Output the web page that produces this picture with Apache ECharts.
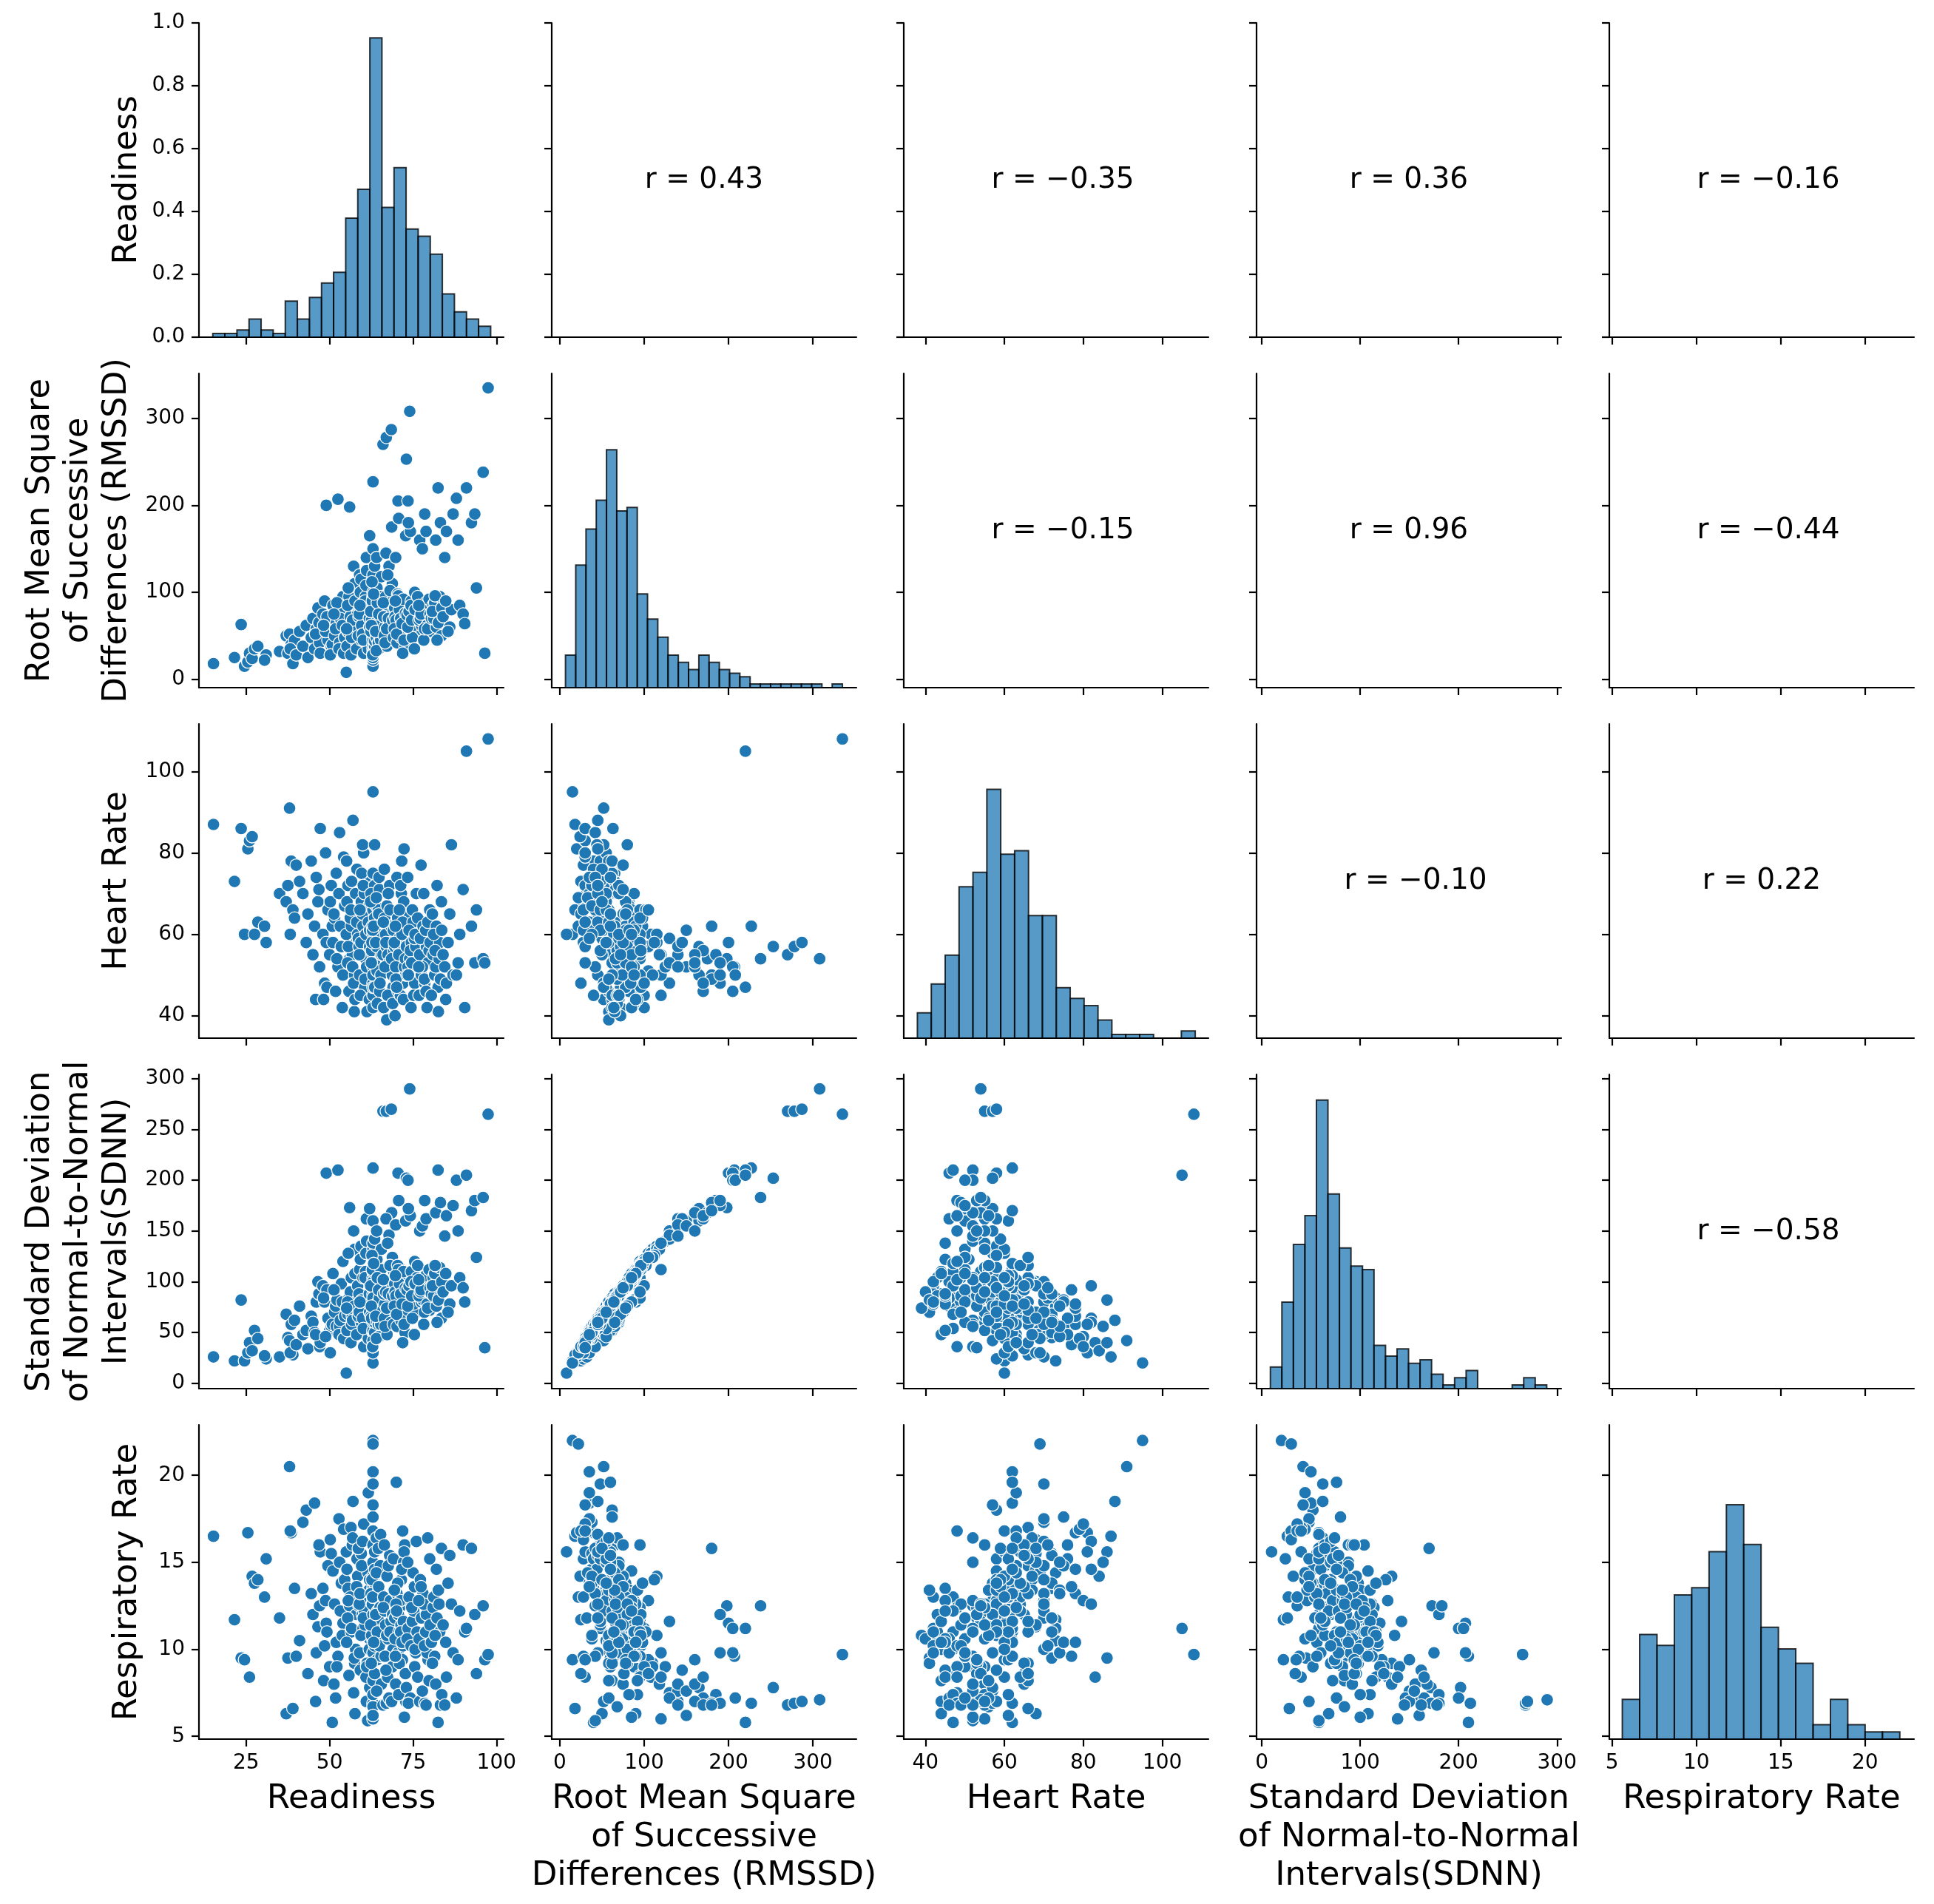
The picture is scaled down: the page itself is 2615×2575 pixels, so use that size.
<!DOCTYPE html>
<html><head><meta charset="utf-8">
<script src="https://cdn.jsdelivr.net/npm/echarts@6/dist/echarts.min.js"></script>
<style>html,body{margin:0;padding:0;background:#fff}#c{width:2615px;height:2575px}</style>
</head><body><div id="c"></div>
<script>
// ---- variable names (axis labels) ----
const varNames = [
  'Readiness',
  'Root Mean Square\nof Successive\nDifferences (RMSSD)',
  'Heart Rate',
  'Standard Deviation\nof Normal-to-Normal\nIntervals(SDNN)',
  'Respiratory Rate'
];

// ---- observations (one entry per day, same index across arrays) ----
const readiness = [
15.2,21.5,23.5,24.5,25.5,26,26.8,27.5,28.5,31,
30.5,35,37,37.5,38,38.5,39,39.5,38.2,40,
41,42,43,43.5,44.5,45,45.5,46,46.5,47,
47.2,46.8,45.8,48,48.5,49,49.5,50,50.5,49.2,
48.8,50.8,51,48.2,50.2,51.5,52,52.5,53,53.5,
54,52.8,51.8,53.2,54.5,52.2,54.2,53.8,51.3,55,
55.5,56,56.5,57,57.5,58,55.2,55.8,56.2,56.8,
57.2,57.8,58.2,55.4,56.4,57.4,58.4,55.6,56.6,57.6,
58.1,56.9,55.1,58.8,59,59.5,60,60.5,61,61.5,
62,59.2,59.8,60.2,60.8,61.2,61.8,58.6,59.4,60.4,
61.4,62,59.6,60.6,61.6,58.9,59.9,60.9,61.9,59.1,
60.1,61.1,62,63,63,63,63,63,63,63,
63,63,63,63,63,63,63,63,63,63,
63,63,63,63,63,63.5,63.5,63.5,63.5,63.5,
63.5,63.5,63.5,62.4,62.6,62.8,64,64.2,64.5,64.8,
65,65.2,65.5,64.4,64.6,65.4,62.3,62.9,64.1,65.1,
64.9,62.7,64.3,65.3,62.5,64.7,63.8,63.2,64,66,
67,68.5,66.5,67.5,68,68.8,66.2,66.8,67.2,67.8,
68.2,69,66.4,67.4,68.4,69.2,66.6,67.6,68.6,66.1,
67.1,68.1,69.1,66.9,68.9,69.5,70,70.5,71,71.5,
72,72.5,69.8,70.2,70.8,71.2,71.8,72.2,72.8,69.6,
70.4,71.4,72.4,70.6,71.6,72.6,69.9,70.9,71.9,72.1,
69.4,70.7,71.3,72.7,70.1,71.7,72.3,69.7,74,73,
73.5,74.5,75,75.5,76,73.2,73.8,74.2,74.8,75.2,
75.8,76.2,73.4,74.4,75.4,76.4,73.6,74.6,75.6,77,
77.5,78,78.5,79,79.5,80,76.8,77.2,77.8,78.2,
78.8,79.2,79.8,77.4,78.4,79.4,80.1,76.7,78.9,81,
81.5,82,82.5,83,83.5,80.5,81.2,81.8,82.2,82.8,
83.2,80.8,81.6,82.6,83.6,84,85,86,86.5,84.5,
85.5,87,84.8,88,89,90,88.5,90.5,91,92.5,
93.5,94,96,96.5,97.5];

const rmssd = [
18,25,63,15,20,30,24,35,38,28,
22,32,50,30,52,40,18,45,35,28,
55,38,62,25,48,70,35,58,82,42,
30,65,52,75,90,200,45,60,38,72,
55,40,85,62,28,50,65,207,42,78,
95,35,58,70,48,88,30,62,75,8,
55,198,82,45,110,62,38,95,72,50,
130,65,40,85,28,60,75,105,48,90,
35,68,58,72,120,45,88,55,140,65,
38,100,78,30,95,58,82,50,115,68,
42,165,62,90,35,75,52,108,70,85,
45,125,60,227,15,22,35,48,30,62,
25,95,70,115,40,88,55,100,78,45,
120,58,92,68,150,52,80,38,96,60,
44,75,130,55,68,90,48,105,62,35,
82,58,118,72,42,95,78,28,140,52,
66,112,88,45,62,75,55,98,33,270,
278,287,60,85,45,110,72,95,38,130,
55,78,50,120,65,92,42,70,175,88,
58,102,48,145,68,82,60,205,95,50,
84,75,140,42,88,65,78,55,165,72,
98,48,85,96,62,38,68,80,30,92,
58,185,70,76,52,64,45,90,308,253,
205,90,65,100,55,74,78,170,48,62,
72,88,60,85,35,95,180,68,80,160,
62,65,190,80,78,55,68,70,150,45,
88,62,92,75,58,58,75,85,170,85,
88,60,220,95,50,70,70,160,45,66,
180,78,96,65,82,72,170,60,80,140,
55,190,90,208,85,75,160,64,220,180,
190,105,238,30,335];

const heartRate = [
87,73,86,60,81,83,84,60,63,58,
62,70,68,72,91,78,66,64,60,77,
73,70,58,65,78,55,62,74,68,52,
86,71,44,60,48,58,66,55,72,47,
80,62,58,44,68,64,75,52,85,57,
50,70,46,62,67,54,79,42,65,60,
72,54,62,88,50,58,68,46,64,55,
48,70,76,53,66,41,60,57,73,44,
63,52,78,57,50,68,62,47,55,73,
60,45,65,80,54,41,67,59,58,70,
52,57,75,49,63,55,82,60,44,66,
72,52,61,62,95,69,62,70,57,75,
48,66,52,60,45,70,58,42,62,50,
55,66,47,56,61,61,57,72,47,64,
82,53,59,70,56,62,67,51,59,74,
46,63,55,60,66,50,68,61,57,48,
71,58,43,63,53,65,58,62,69,55,
57,58,64,55,72,50,42,60,67,53,
58,47,76,45,62,56,52,70,54,63,
39,66,61,58,43,57,62,46,55,70,
48,65,52,74,59,45,61,68,50,40,
64,56,52,57,78,60,49,66,63,44,
58,55,72,54,47,60,81,62,54,57,
52,58,63,48,70,50,61,56,66,45,
57,52,74,42,59,64,50,53,60,55,
50,62,48,57,53,66,45,59,52,70,
61,42,56,77,49,63,58,52,46,55,
50,62,47,58,68,45,60,52,72,54,
49,65,56,41,61,55,48,65,82,52,
58,50,44,50,60,71,53,42,105,62,
53,66,54,53,108];

const sdnn = [
26,22,82,22,30,40,32,52,44,24,
27,26,68,45,42,58,28,62,30,38,
76,48,52,34,66,60,50,80,100,36,
40,88,48,96,80,207,64,52,56,92,
46,58,108,84,30,70,56,210,56,98,
120,48,76,62,66,82,44,80,92,10,
68,173,104,62,132,58,52,84,90,66,
150,80,48,80,40,76,96,128,58,108,
48,62,74,88,112,60,104,54,162,84,
44,122,74,36,110,70,100,66,135,64,
58,172,82,104,44,70,64,128,88,80,
54,140,70,212,20,30,50,62,42,80,
36,104,88,132,52,100,70,96,94,60,
138,72,110,84,160,66,76,50,118,74,
60,96,142,66,64,112,62,122,80,46,
100,76,132,68,58,112,96,36,150,70,
84,126,104,58,76,92,66,118,44,268,
268,270,78,98,62,124,88,90,48,146,
72,96,64,138,60,110,56,88,168,102,
74,116,58,162,86,98,76,207,114,64,
102,92,156,56,106,82,74,70,160,90,
116,62,100,112,78,50,86,98,40,110,
76,180,88,94,68,78,58,106,290,202,
200,110,82,120,70,92,96,165,64,78,
90,104,76,100,48,116,172,86,98,150,
80,82,180,100,94,72,86,90,155,58,
106,78,112,92,70,74,94,102,162,104,
108,76,210,114,64,88,86,168,60,84,
178,96,116,82,100,90,165,78,96,145,
70,175,108,200,104,94,150,80,205,170,
180,124,183,35,265];

const respRate = [
16.5,11.7,9.5,9.4,16.7,8.4,14.2,13.8,14.0,15.2,
13.0,11.8,6.3,9.5,20.5,16.7,6.6,13.5,16.8,9.6,
10.5,17.3,18.0,8.6,13.2,12.0,18.4,9.8,11.3,12.5,
15.6,16.0,7.0,13.5,10.2,11.5,14.8,9.0,15.5,11.0,
12.8,5.8,14.5,8.2,16.3,12.6,10.4,9.6,15.0,13.8,
11.5,17.5,7.2,12.2,14.0,9.0,16.9,10.8,8.0,15.6,
13.5,12.5,11.0,18.5,9.2,12.0,14.6,8.5,13.0,16.0,
7.5,10.0,15.2,11.8,17.0,9.5,14.2,12.8,11.2,6.3,
13.6,16.4,10.4,12.5,9.8,15.5,11.2,13.0,7.0,14.4,
10.6,8.8,12.0,17.2,11.6,9.2,13.4,15.8,10.8,12.2,
5.9,7.8,14.8,11.4,19.0,12.6,16.2,8.4,10.0,13.2,
11.8,9.0,14.0,6.9,22.0,21.8,20.2,19.5,18.3,17.6,
16.8,16.0,15.0,14.2,13.5,12.8,12.0,11.2,10.5,9.8,
6.0,8.2,7.4,6.7,6.2,12.4,11.0,13.8,10.2,15.6,
14.6,8.6,11.6,13.2,10.8,12.6,16.4,9.4,11.8,13.4,
10.6,14.8,8.0,12.2,15.8,9.6,11.4,13.0,7.6,12.4,
10.2,14.0,11.0,16.6,9.2,13.6,12.0,10.4,14.4,6.8,
6.9,7.0,12.2,10.6,15.4,9.0,13.0,11.4,14.2,7.2,
12.8,10.0,16.0,8.4,11.6,13.4,9.6,14.8,7.0,12.4,
10.8,11.0,15.2,8.8,12.0,11.8,19.6,9.8,12.4,14.0,
10.2,16.0,8.0,13.2,11.0,12.8,9.4,15.0,7.0,10.6,
13.8,11.4,6.1,12.0,14.6,10.8,12.6,9.2,16.8,11.6,
13.4,7.4,11.0,8.6,12.2,10.4,15.6,9.6,7.1,7.8,
11.2,12.6,14.4,9.0,16.2,10.6,13.0,7.2,11.6,12.2,
9.8,11.0,15.0,10.2,13.6,8.4,6.9,12.4,10.0,7.0,
11.8,13.2,6.9,12.0,9.4,15.2,10.6,14.0,7.6,12.6,
11.0,9.8,8.2,13.6,10.2,16.4,11.4,12.8,6.8,12.4,
9.6,14.6,5.8,11.0,15.8,10.4,13.0,8.0,11.8,12.6,
6.8,9.2,10.8,13.4,7.4,11.4,8.4,15.4,12.6,6.8,
13.8,9.8,10.4,7.2,12.2,16.0,9.4,11.0,11.2,15.8,
12.0,8.6,12.5,9.4,9.7];

// ---- diagonal histograms (bin start, bin width, counts) ----
const histStart = [15.0, 6.7, 37.95, 8.75, 5.61];
const histWidth = [3.62, 12.16, 3.52, 11.7, 1.028];
const readinessHist = [1,1,2,5,2,1,10,5,11,15,18,33,41,83,36,47,30,28,23,12,7,5,3];
const rmssdHist = [9,34,44,52,66,49,50,26,19,14,9,7,5,9,7,5,4,3,1,1,1,1,1,1,1,0,1];
const heartRateHist = [7,15,23,42,46,69,51,52,34,34,14,11,9,5,1,1,1,0,0,2];
const sdnnHist = [6,24,40,48,80,54,39,34,33,12,9,11,7,8,4,1,3,5,0,0,0,1,3,1];
const respRateHist = [11,29,26,40,42,52,65,54,31,25,21,4,11,4,2,2];

// ---- correlation annotations (upper triangle, row by row) ----
const corrLabels = ['0.43','\u22120.35','0.36','\u22120.16','\u22120.15','0.96','\u22120.44','\u22120.10','0.22','\u22120.58'];

// ---- axis ranges and ticks ----
const axisMin = [10.85, -9.6, 34.5, -5.3, 4.84];
const axisMax = [102.15, 351.6, 111.7, 304.3, 22.9];
const xTicks = [[25,50,75,100],[0,100,200,300],[40,60,80,100],[0,100,200,300],[5,10,15,20]];
const yTicks = [[0,0.2,0.4,0.6,0.8,1.0],[0,100,200,300],[40,60,80,100],[0,50,100,150,200,250,300],[5,10,15,20]];

// ---- layout ----
const colLeft = [269, 746, 1222, 1699, 2176];
const rowTop = [31, 505, 979, 1453, 1927];
const PW = 412, PH = 425;
const yNameX = [172, 106, 158, 106, 172];   // centre of the rotated row label block
const FONT = 'DejaVu Sans';
const BLUE = '#1f77b4';

const vars = [readiness, rmssd, heartRate, sdnn, respRate];
const hists = [readinessHist, rmssdHist, heartRateHist, sdnnHist, respRateHist];
const histMax = Math.max(...hists.map(h => Math.max(...h))) * 1.05;

const grid = [], xAxis = [], yAxis = [], series = [], graphic = [];
let ci = 0;
const axisLineStyle = {color:'#000', width:2.2};
for (let i = 0; i < 5; i++) {
  // rotated row label
  graphic.push({
    type:'text', x: yNameX[i], y: rowTop[i] + PH/2, rotation: Math.PI/2, silent:true,
    style:{text: varNames[i], fontFamily:FONT, fontSize:45, fill:'#000', lineHeight:52,
      align:'center', verticalAlign:'middle', textAlign:'center', textVerticalAlign:'middle'}
  });
  for (let j = 0; j < 5; j++) {
    const g = grid.length;
    grid.push({left: colLeft[j], top: rowTop[i], width: PW, height: PH, containLabel:false, outerBoundsMode:'none'});
    xAxis.push({
      type:'value', gridIndex:g, min:axisMin[j], max:axisMax[j], position:'bottom',
      name: i === 4 ? varNames[j] : '', nameLocation:'middle', nameGap:55,
      nameTextStyle:{fontFamily:FONT, fontSize:45, color:'#000', lineHeight:52, align:'center'},
      axisLine:{show:true, onZero:false, lineStyle:axisLineStyle},
      axisTick:{show:true, inside:false, length:10, lineStyle:axisLineStyle, customValues:xTicks[j]},
      axisLabel:{show: i === 4, customValues:xTicks[j], margin:19, fontFamily:FONT, fontSize:28, color:'#000'},
      splitLine:{show:false}
    });
    const yi = yAxis.length;
    yAxis.push({
      type:'value', gridIndex:g, min: i === 0 ? 0 : axisMin[i], max: i === 0 ? 1 : axisMax[i], position:'left',
      axisLine:{show:true, onZero:false, lineStyle:axisLineStyle},
      axisTick:{show:true, inside:false, length:10, lineStyle:axisLineStyle, customValues:yTicks[i]},
      axisLabel:{show: j === 0, customValues:yTicks[i], margin:19, fontFamily:FONT, fontSize:28, color:'#000',
        formatter: i === 0 ? (v => Number(v).toFixed(1)) : (v => String(v))},
      splitLine:{show:false}
    });
    if (i === j) {
      const hy = yAxis.length;
      yAxis.push({type:'value', gridIndex:g, min:0, max:histMax, show:false, position:'right',
        axisLine:{onZero:false}, splitLine:{show:false}});
      const counts = hists[i];
      const data = [];
      counts.forEach((c, k) => { if (c > 0) data.push([histStart[i] + k*histWidth[i], histStart[i] + (k+1)*histWidth[i], c]); });
      series.push({
        type:'custom', coordinateSystem:'cartesian2d', xAxisIndex:g, yAxisIndex:hy, data, silent:true,
        encode:{x:[0,1], y:2},
        renderItem:(params, api) => {
          const p0 = api.coord([api.value(0), api.value(2)]);
          const p1 = api.coord([api.value(1), 0]);
          return {type:'rect', shape:{x:p0[0], y:p0[1], width:p1[0]-p0[0], height:p1[1]-p0[1]},
            style:{fill:'rgba(31,119,180,0.75)', stroke:'rgba(0,0,0,0.78)', lineWidth:2}};
        }
      });
    } else if (i > j) {
      series.push({
        type:'scatter', xAxisIndex:g, yAxisIndex:yi, silent:true,
        data: vars[j].map((v, k) => [v, vars[i][k]]),
        symbol:'circle', symbolSize:17,
        itemStyle:{color:BLUE, borderColor:'#ffffff', borderWidth:1.3, opacity:1}
      });
    } else {
      const label = corrLabels[ci++];
      const shift = label.charAt(0) === '\u2212' ? 9 : 0;
      graphic.push({
        type:'text', x: colLeft[j] + PW/2 + shift, y: rowTop[i] + PH/2, silent:true,
        style:{text:'r = ' + label, fontFamily:FONT, fontSize:39, fill:'#000',
          align:'center', verticalAlign:'middle', textAlign:'center', textVerticalAlign:'middle'}
      });
    }
  }
}

const chart = echarts.init(document.getElementById('c'), null, {renderer:'canvas', width:2615, height:2575});
chart.setOption({
  backgroundColor:'#ffffff',
  animation:false,
  grid, xAxis, yAxis, series, graphic
});
</script>
</body></html>
